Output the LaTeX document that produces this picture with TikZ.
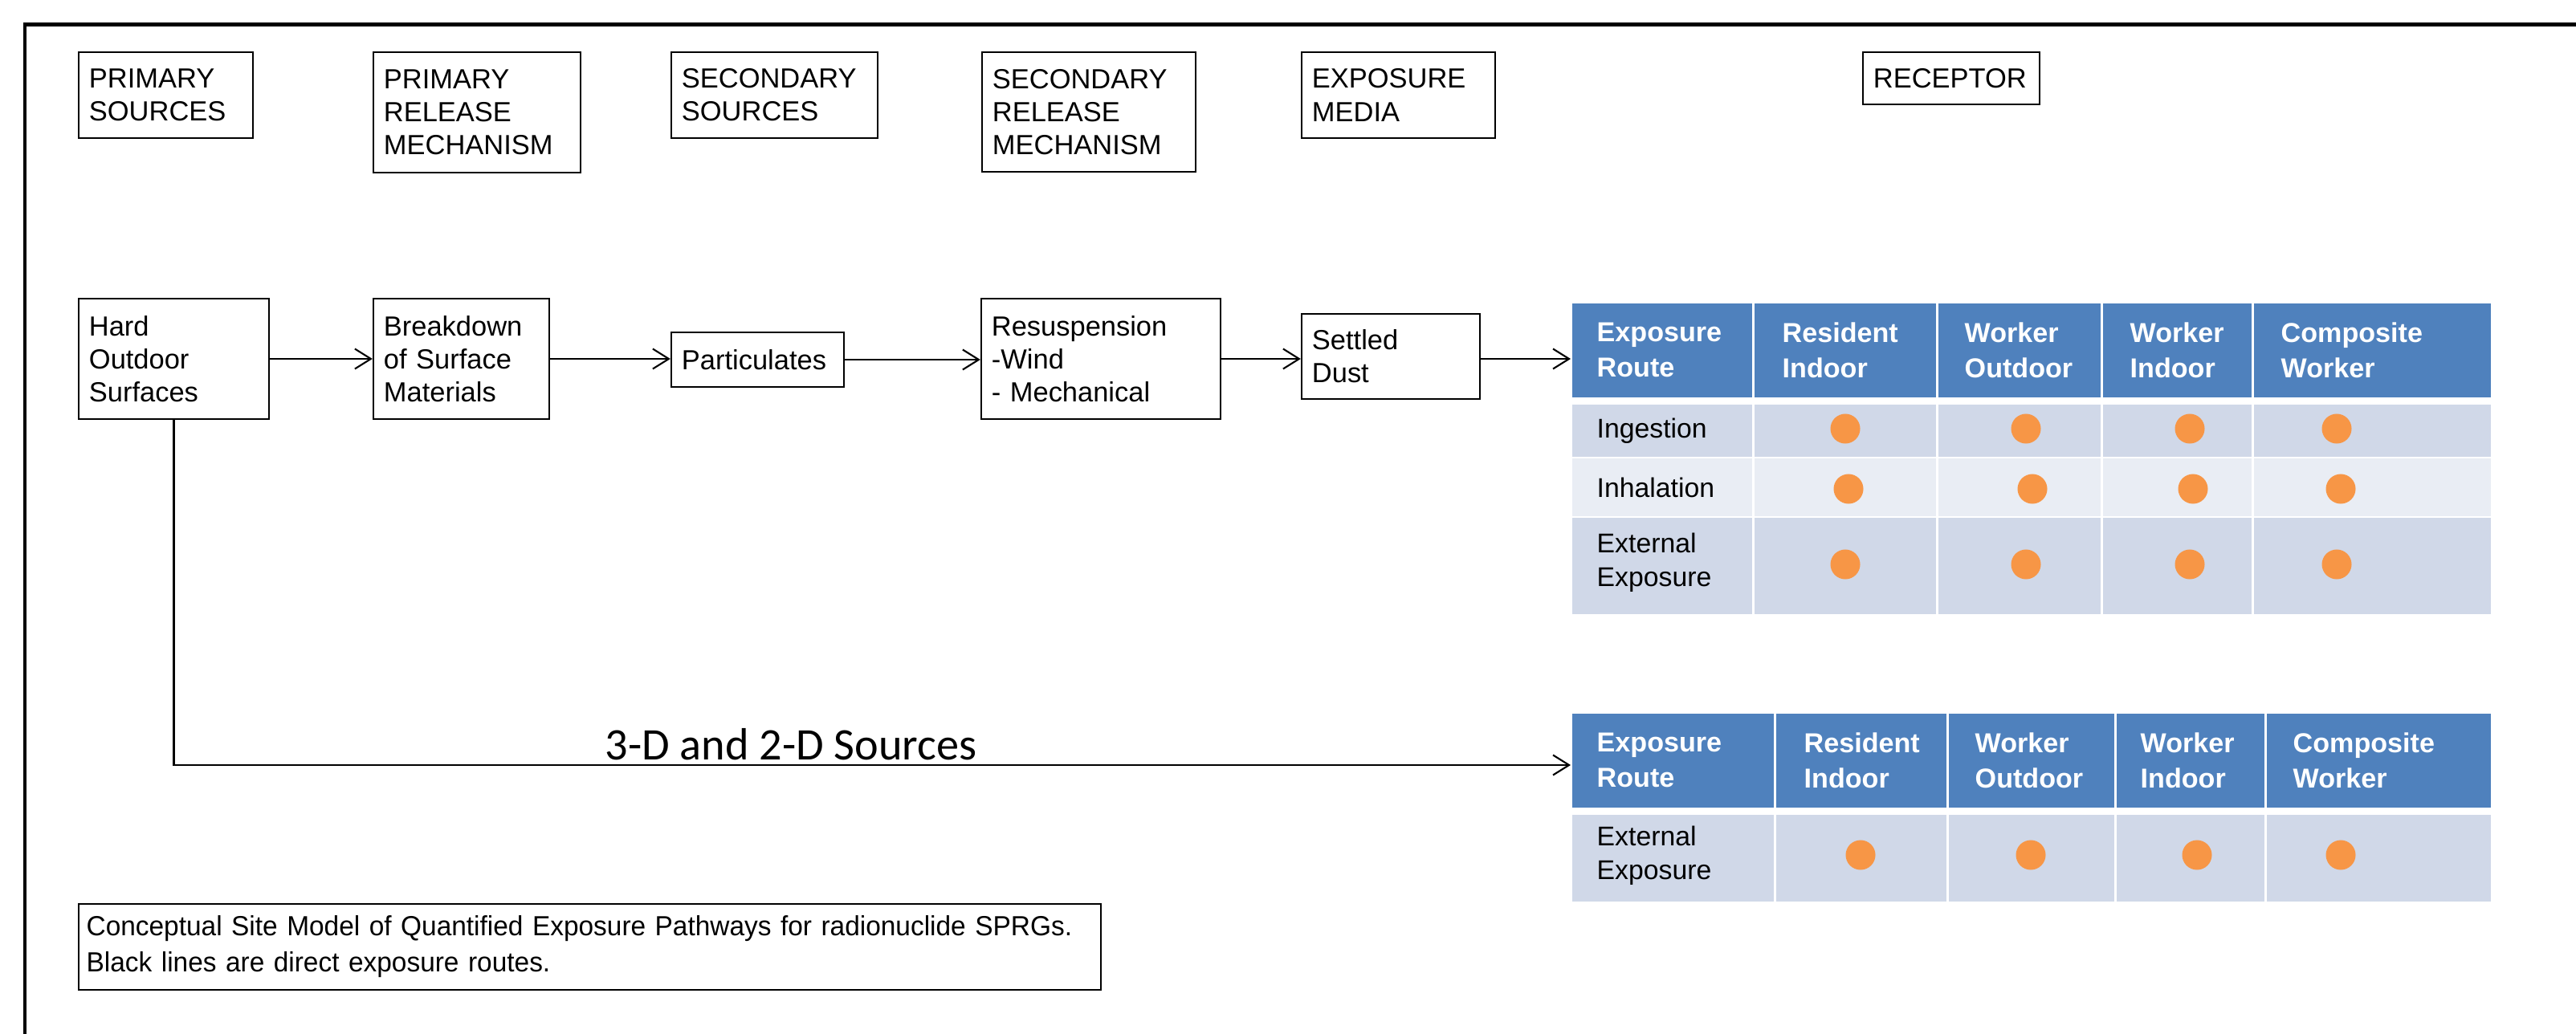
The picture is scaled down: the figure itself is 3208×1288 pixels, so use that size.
\documentclass[tikz,border=0pt]{standalone}
\usepackage{fontspec}
\setmainfont{Liberation Sans}
\newfontfamily\calib{Carlito}
\newfontfamily\capfont[FakeStretch=0.97]{Liberation Sans}
\usetikzlibrary{arrows.meta}
\definecolor{hdr}{HTML}{4F81BD}
\definecolor{rowa}{HTML}{D0D8E8}
\definecolor{rowb}{HTML}{E9EDF4}
\definecolor{dotc}{HTML}{F79646}
\begin{document}
\begin{tikzpicture}[x=0.01cm,y=-0.01cm,
  font=\fontsize{9.8}{11.7}\selectfont,
  box/.style={draw, line width=0.6pt, inner xsep=0.13cm, inner ysep=0pt, align=left},
  conn/.style={line width=0.6pt, -{Straight Barb[length=0.2cm,width=0.25cm]}},
  hdrtxt/.style={anchor=west, inner sep=0pt, align=left, text=white, font=\bfseries\fontsize{9.7}{12.5}\selectfont},
  rowtxt/.style={anchor=west, inner sep=0pt, align=left, font=\fontsize{9.6}{12}\selectfont},
  dotn/.style={circle, fill=dotc, inner sep=0pt, minimum size=0.37cm}]
\useasboundingbox (0,0) rectangle (3208,1288);
% outer frame (only left and top edges visible)
\draw[line width=1.42pt] (31,1288) -- (31,31) -- (3208,31);

% header boxes
\node[box, minimum width=2.17cm, minimum height=1.07cm, text width=1.91cm] (hps) at (206.5,118.5) {PRIMARY\\SOURCES};
\node[box, minimum width=2.58cm, minimum height=1.50cm, text width=2.32cm] (hprm) at (594,140) {PRIMARY\\RELEASE\\MECHANISM};
\node[box, minimum width=2.57cm, minimum height=1.07cm, text width=2.31cm] (hss) at (964.5,118.5) {SECONDARY\\SOURCES};
\node[box, minimum width=2.66cm, minimum height=1.49cm, text width=2.40cm] (hsrm) at (1356,139.5) {SECONDARY\\RELEASE\\MECHANISM};
\node[box, minimum width=2.41cm, minimum height=1.07cm, text width=2.15cm] (hem) at (1741.5,118.5) {EXPOSURE\\MEDIA};
\node[box, minimum width=2.20cm, minimum height=0.65cm, text width=1.94cm, inner xsep=0.1cm] (hrec) at (2430,97.5) {RECEPTOR};

% flow boxes
\node[box, minimum width=2.37cm, minimum height=1.50cm, text width=2.11cm] (hard) at (216.5,447) {Hard\\Outdoor\\Surfaces};
\node[box, minimum width=2.19cm, minimum height=1.50cm, text width=1.93cm] (brk) at (574.5,447) {Breakdown\\of Surface\\Materials};
\node[box, minimum width=2.15cm, minimum height=0.68cm, text width=1.89cm] (part) at (943.5,448) {Particulates};
\node[box, minimum width=2.98cm, minimum height=1.50cm, text width=2.72cm] (res) at (1371,447) {Resuspension\\-Wind\\- Mechanical};
\node[box, minimum width=2.22cm, minimum height=1.06cm, text width=1.96cm] (dust) at (1732,444) {Settled\\Dust};

% caption
\node[box, minimum width=12.73cm, minimum height=1.07cm, text width=12.53cm, inner xsep=0.1cm, font=\capfont\fontsize{9.8}{12.8}\selectfont] (cap) at (734.5,1179.5) {Conceptual Site Model of Quantified Exposure Pathways for radionuclide SPRGs.\\Black lines are direct exposure routes.};

% table 1
\foreach \xa/\xb in {1956/2183,2183/2412,2412/2617,2617/2805,2805/3103}{
  \fill[hdr] ({\xa+1.5},378) rectangle ({\xb-1.5},495);
  \fill[rowa] ({\xa+1.5},504) rectangle ({\xb-1.5},569);
  \fill[rowb] ({\xa+1.5},571) rectangle ({\xb-1.5},643);
  \fill[rowa] ({\xa+1.5},645) rectangle ({\xb-1.5},765);
}
\foreach \x/\txt [count=\i] in {1988/{Exposure\\Route},2219/{Resident\\Indoor},2446/{Worker\\Outdoor},2652/{Worker\\Indoor},2840/{Composite\\Worker}}
  \node[hdrtxt] (ah\i) at (\x,436) {\txt};
\node[rowtxt] (ar1) at (1988,537) {Ingestion};
\node[rowtxt] (ar2) at (1988,607) {Inhalation};
\node[rowtxt] (ar3) at (1988,701) {External\\Exposure};
\foreach \x [count=\i] in {2298,2523,2727,2910}{
  \node[dotn] (ad1\i) at (\x,534) {};
  \node[dotn] (ad3\i) at (\x,703) {};
}
\foreach \x [count=\i] in {2302,2531,2731,2915}
  \node[dotn] (ad2\i) at (\x,609) {};

% table 2
\foreach \xa/\xb in {1956/2210,2210/2425,2425/2634,2634/2821,2821/3103}{
  \fill[hdr] ({\xa+1.5},889) rectangle ({\xb-1.5},1006);
  \fill[rowa] ({\xa+1.5},1015) rectangle ({\xb-1.5},1123);
}
\foreach \x/\txt [count=\i] in {1988/{Exposure\\Route},2246/{Resident\\Indoor},2459/{Worker\\Outdoor},2665/{Worker\\Indoor},2855/{Composite\\Worker}}
  \node[hdrtxt] (bh\i) at (\x,947) {\txt};
\node[rowtxt] (br1) at (1988,1066) {External\\Exposure};
\foreach \x [count=\i] in {2317,2529,2736,2915}
  \node[dotn] (bd\i) at (\x,1065) {};

% connectors
\coordinate (t1in) at (1956,447);
\coordinate (t2in) at (1956,953);
\coordinate (bend) at (hard.south |- t2in);
\draw[conn] (hard.east) -- (brk.west);
\draw[conn] (brk.east) -- (brk.east -| part.west);
\draw[conn] (part.east) -- (part.east -| res.west);
\draw[conn] (res.east) -- (res.east -| dust.west);
\draw[conn] (dust.east |- t1in) -- (t1in);
\draw[conn] (hard.south) -- (bend) -- (t2in);
\node[anchor=base, inner sep=0pt, font=\calib\fontsize{16}{19}\selectfont] (lbl) at (985,946) {3-D and 2-D Sources};
\end{tikzpicture}
\end{document}
